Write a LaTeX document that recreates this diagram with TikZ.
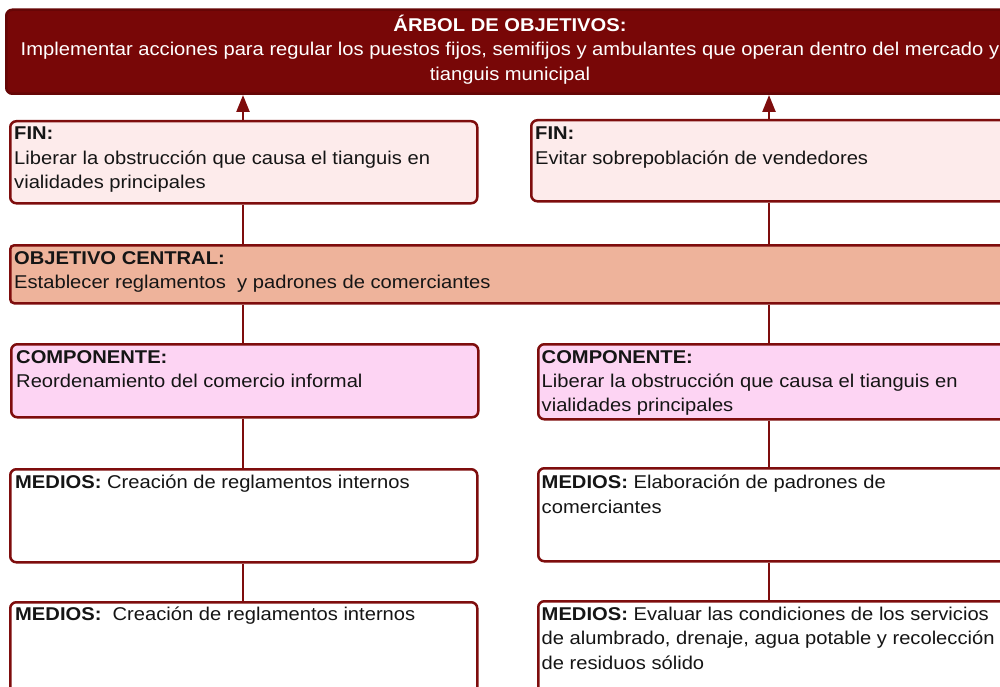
\documentclass[tikz,border=0pt]{standalone}
\usepackage{fontspec}
\setmainfont{Liberation Sans}[FakeStretch=1.09]
\usetikzlibrary{arrows.meta}
\definecolor{topfill}{HTML}{780707}
\definecolor{bord}{HTML}{7E0D0D}
\definecolor{finfill}{HTML}{FDEBEB}
\definecolor{objfill}{HTML}{EEB39B}
\definecolor{compfill}{HTML}{FDD4F3}
\definecolor{textc}{HTML}{151515}
\tikzset{
  box/.style={draw=bord, line width=2.5pt, rounded corners=6pt, anchor=north west, inner sep=0pt},
  txt/.style={anchor=north west, inner sep=0pt, align=left, text=textc, font=\fontsize{18.5}{24.3}\selectfont},
  conn/.style={draw=bord, line width=2.4pt},
}
\begin{document}
\begin{tikzpicture}[x=1pt,y=-1pt]
\useasboundingbox (0,0) rectangle (1000,687);
\clip (0,0) rectangle (1000,687);
% boxes
\node[box, fill=topfill, draw=topfill!85!black, minimum width=1012pt, minimum height=84pt] (top) at (5,8.5) {};
\node[box, fill=finfill, minimum width=467pt, minimum height=82pt] (finL) at (9,120) {};
\node[box, fill=finfill, minimum width=480pt, minimum height=81pt] (finR) at (530,119) {};
\node[box, fill=objfill, rounded corners=4pt, minimum width=1000pt, minimum height=58pt] (objC) at (9,244) {};
\node[box, fill=compfill, minimum width=467pt, minimum height=73pt] (compL) at (10,343) {};
\node[box, fill=compfill, minimum width=475pt, minimum height=75pt] (compR) at (537,343) {};
\node[box, fill=white, minimum width=467pt, minimum height=93pt] (medL1) at (9,468) {};
\node[box, fill=white, minimum width=475pt, minimum height=93pt] (medR1) at (537,467) {};
\node[box, fill=white, minimum width=467pt, minimum height=150pt] (medL2) at (9,601) {};
\node[box, fill=white, minimum width=475pt, minimum height=150pt] (medR2) at (537,600) {};
% columns
\coordinate (cl) at (243,0);
\coordinate (cr) at (769,0);
% connectors
\draw[conn, -{Triangle[width=13pt,length=17pt]}, fill=bord] (cl |- finL.north) -- (cl |- top.south);
\draw[conn, -{Triangle[width=13pt,length=17pt]}, fill=bord] (cr |- finR.north) -- (cr |- top.south);
\draw[conn] (cl |- finL.south) -- (cl |- objC.north);
\draw[conn] (cr |- finR.south) -- (cr |- objC.north);
\draw[conn] (cl |- objC.south) -- (cl |- compL.north);
\draw[conn] (cr |- objC.south) -- (cr |- compR.north);
\draw[conn] (cl |- compL.south) -- (cl |- medL1.north);
\draw[conn] (cr |- compR.south) -- (cr |- medR1.north);
\draw[conn] (cl |- medL1.south) -- (cl |- medL2.north);
\draw[conn] (cr |- medR1.south) -- (cr |- medR2.north);
% texts
\node[txt, anchor=north, align=center, text=white] (toptxt) at (510,15) {\textbf{ÁRBOL DE OBJETIVOS:}\\Implementar acciones para regular los puestos fijos, semifijos y ambulantes que operan dentro del mercado y\\tianguis municipal};
\node[txt] (finLt) at (14,127) {\textbf{FIN:}\\Liberar la obstrucción que causa el tianguis en\\vialidades principales};
\node[txt] (finRt) at (535,127) {\textbf{FIN:}\\Evitar sobrepoblación de vendedores};
\node[txt] (objCt) at (14,251) {\textbf{OBJETIVO CENTRAL:}\\Establecer reglamentos\ \ y padrones de comerciantes};
\node[txt] (compLt) at (16,350) {\textbf{COMPONENTE:}\\Reordenamiento del comercio informal};
\node[txt] (compRt) at (541.5,350) {\textbf{COMPONENTE:}\\Liberar la obstrucción que causa el tianguis en\\vialidades principales};
\node[txt] (medL1t) at (15,475) {\textbf{MEDIOS:} Creación de reglamentos internos};
\node[txt] (medR1t) at (541.5,475) {\textbf{MEDIOS:} Elaboración de padrones de\\comerciantes};
\node[txt] (medL2t) at (15,607) {\textbf{MEDIOS:}\ \ Creación de reglamentos internos};
\node[txt] (medR2t) at (541.5,607) {\textbf{MEDIOS:} Evaluar las condiciones de los servicios\\de alumbrado, drenaje, agua potable y recolección\\de residuos sólido};
\end{tikzpicture}
\end{document}
